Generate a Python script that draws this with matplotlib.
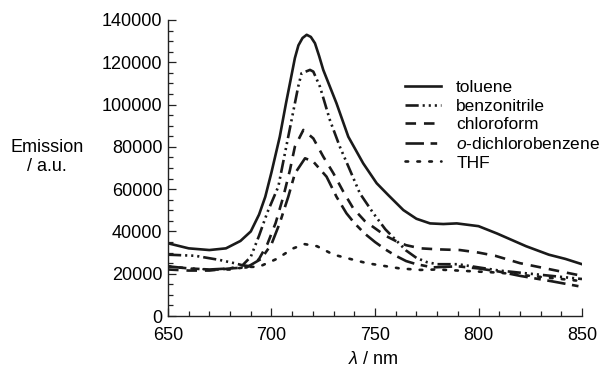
import numpy as np
import matplotlib
matplotlib.use('Agg')
import matplotlib.pyplot as plt
from matplotlib.ticker import MultipleLocator

plt.rcParams['font.family'] = ['Liberation Sans', 'DejaVu Sans']
plt.rcParams['mathtext.fontset'] = 'custom'
plt.rcParams['mathtext.it'] = 'Liberation Sans:italic'
plt.rcParams['mathtext.rm'] = 'Liberation Sans'

# emission spectra (wavelength in nm, intensity in a.u.)
toluene_x = [650, 660, 670, 678, 685, 690, 694, 697, 700, 704, 707, 709.7, 711.3, 713, 715, 717, 719, 721, 723,
             725, 731.4, 737.1, 744.3, 750.8, 756.4, 763.7, 770, 776.6, 783, 789.5, 800, 809, 816, 823, 834, 842,
             850]
toluene_y = [34400, 32000, 31200, 32000, 35500, 40000, 48000, 56400, 68000, 84800, 100600, 114000, 122000,
             128000, 131500, 133000, 132000, 129000, 123000, 116400, 100600, 84800, 72200, 62800, 57200, 50100,
             46000, 43800, 43500, 43800, 42500, 39000, 36000, 33000, 29000, 27000, 24500]

benzonitrile_x = [650, 663, 675, 682, 686, 690, 694, 698, 703.3, 706.5, 709.7, 712.9, 714.5, 718.6, 720.2, 723.4,
                  728.2, 733, 737.9, 742.7, 749.2, 755, 760, 765, 770, 775, 780, 790, 800, 810, 820, 835, 850]
benzonitrile_y = [29000, 28500, 26500, 25000, 24000, 28000, 38000, 49000, 61200, 77000, 92700, 108500, 114800,
                  116400, 115600, 108500, 92700, 80100, 69000, 58000, 48600, 41000, 36000, 31000, 27500, 25500,
                  24500, 24500, 23000, 21500, 20500, 19000, 17500]

chloroform_x = [650, 660, 670, 680, 686, 690, 694, 698, 702, 705.7, 708.9, 711.3, 715.4, 720.2, 725, 729.9, 734.7,
                739.5, 745, 750, 755, 760, 765, 772, 781, 791, 800, 808, 820, 835, 850]
chloroform_y = [22000, 21500, 21500, 22500, 24000, 23500, 27000, 34000, 44000, 56400, 69000, 80100, 88000, 84000,
                75400, 67500, 58800, 50900, 45000, 41500, 38000, 35500, 33500, 32000, 31500, 31200, 30000, 28500,
                25000, 22000, 19000]

dcb_x = [650, 660, 670, 680, 688, 695, 700, 704, 708.1, 711.3, 716.2, 720.2, 726.6, 731.4, 736.2, 740, 745, 750,
         755, 760, 765, 770, 778, 790, 800, 810, 820, 835, 850]
dcb_y = [23500, 22500, 22000, 22500, 23000, 27000, 34000, 44000, 56400, 67400, 74600, 73000, 65900, 56400, 48600,
         44000, 39000, 35000, 31500, 28500, 26000, 24500, 23000, 23500, 22500, 21000, 19000, 16500, 13800]

thf_x = [650, 660, 670, 680, 688, 694, 702.5, 710.5, 716, 722, 730, 746, 762, 772, 780, 790, 810, 830, 850]
thf_y = [23500, 22500, 22000, 22000, 23200, 23300, 27000, 32000, 34000, 33000, 29000, 25000, 22500, 21800,
         22000, 21500, 20500, 18500, 16500]

fig = plt.figure(figsize=(6.14, 3.69), dpi=100)
ax = fig.add_axes([0.2736, 0.1436, 0.6743, 0.8022])

lw = 1.9
ax.plot(toluene_x, toluene_y, color='#1a1a1a', lw=lw, ls='-', label='toluene')
ax.plot(benzonitrile_x, benzonitrile_y, color='#1a1a1a', lw=lw,
        ls=(0, (5, 1.5, 0.8, 1.5, 0.8, 1.5, 0.8, 1.5)), label='benzonitrile')
ax.plot(chloroform_x, chloroform_y, color='#1a1a1a', lw=lw, ls=(0, (4, 3)), label='chloroform')
ax.plot(dcb_x, dcb_y, color='#1a1a1a', lw=lw, ls=(0, (7, 2.5, 2.5, 2.5)), label='$o$-dichlorobenzene')
ax.plot(thf_x, thf_y, color='#1a1a1a', lw=lw, ls=(0, (1, 3.5)), dash_capstyle='round', label='THF')

ax.set_xlim(650, 850)
ax.set_ylim(0, 140000)
ax.xaxis.set_major_locator(MultipleLocator(50))
ax.xaxis.set_minor_locator(MultipleLocator(10))
ax.yaxis.set_major_locator(MultipleLocator(20000))
ax.yaxis.set_minor_locator(MultipleLocator(5000))
ax.tick_params(which='both', direction='in', labelsize=13, width=0.9, color='#222222')
ax.tick_params(which='major', length=6)
ax.tick_params(which='minor', length=3.5)
ax.tick_params(axis='x', pad=8)
ax.tick_params(axis='y', pad=4)
for s in ['top', 'right']:
    ax.spines[s].set_visible(False)
for s in ['left', 'bottom']:
    ax.spines[s].set_linewidth(1.0)
    ax.spines[s].set_color('#222222')

ax.legend(loc='upper left', bbox_to_anchor=(405 / 614, 1 - 80 / 369), bbox_transform=fig.transFigure,
          frameon=False, fontsize=12.5, handlelength=2.1, handletextpad=0.85, labelspacing=0.2,
          borderpad=0, borderaxespad=0)

fig.text(47 / 614, 1 - 157 / 369, 'Emission\n/ a.u.', ha='center', va='center', multialignment='center',
         fontsize=13, linespacing=1.15)
fig.text(373 / 614, 1 - 359 / 369, r'$\lambda$ / nm', ha='center', va='center', fontsize=13)

fig.savefig('out.png', dpi=100)
